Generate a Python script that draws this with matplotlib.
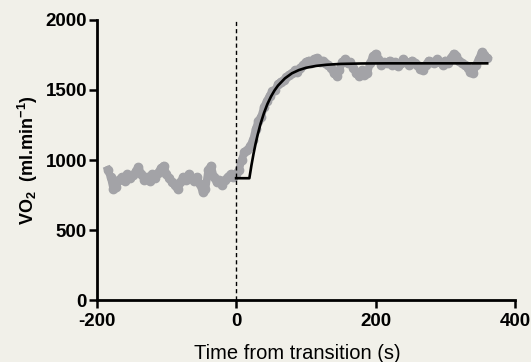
import numpy as np
import matplotlib.pyplot as plt

plt.rcParams['font.family'] = ['Liberation Sans', 'DejaVu Sans']
plt.rcParams['mathtext.fontset'] = 'custom'
plt.rcParams['mathtext.rm'] = 'Liberation Sans:bold'
plt.rcParams['mathtext.default'] = 'rm'
plt.rcParams['axes.unicode_minus'] = False

bg = '#f1f0e9'

# breath data, 4 s bins from -184 s to 360 s
t = np.arange(-184, 361, 4)
vo2 = [930, 880, 790, 810, 860, 880, 850, 900, 870, 890,
       920, 950, 900, 860, 880, 850, 900, 870, 910, 940,
       960, 900, 870, 840, 820, 790, 840, 880, 860, 900,
       870, 850, 880, 830, 770, 790, 930, 960, 880, 840,
       860, 820, 860, 880, 900, 880,
       # transition
       900, 930, 1000, 1060, 1070, 1100, 1140, 1220, 1280, 1310,
       1380, 1420, 1460, 1490, 1500, 1540, 1560, 1570, 1590, 1610,
       1620, 1640, 1630, 1660, 1680, 1700, 1710, 1690, 1720, 1730,
       1700, 1710, 1690, 1680, 1660, 1620, 1600, 1640, 1700, 1720,
       1690, 1700, 1660, 1620, 1600, 1640, 1610, 1620, 1690, 1740,
       1760, 1720, 1680, 1700, 1690, 1710, 1680, 1700, 1670, 1690,
       1720, 1700, 1680, 1710, 1690, 1680, 1650, 1640, 1680, 1710,
       1700, 1690, 1720, 1700, 1680, 1710, 1690, 1730, 1760, 1740,
       1710, 1690, 1680, 1660, 1630, 1620, 1680, 1720, 1770, 1750,
       1730]

# mono-exponential fit (baseline, time delay, then rise)
fit_t = [0, 19, 22, 25, 28, 31, 35, 40, 45, 50, 55, 60, 70, 80, 90,
         100, 115, 130, 150, 180, 220, 360]
fit_v = [870, 870, 963, 1045, 1118, 1182, 1258, 1336, 1401, 1453, 1496,
         1531, 1583, 1619, 1642, 1658, 1672, 1680, 1686, 1689, 1690, 1690]

fig = plt.figure(figsize=(5.31, 3.62), dpi=100, facecolor=bg)
ax = fig.add_axes([0.182, 0.171, 0.788, 0.774])
ax.set_facecolor(bg)

ax.plot(t, vo2, '-o', color='#a3a3a7', lw=5.5, ms=6, mec='#a3a3a7',
        solid_joinstyle='round', zorder=2)
ax.plot(fit_t, fit_v, color='black', lw=1.9, zorder=3)
ax.plot([0, 0], [0, 2000], color='black', lw=1, ls=(0, (3, 2.2)), zorder=4)

ax.set_xlim(-200, 400)
ax.set_ylim(0, 2000)
ax.set_xticks([-200, 0, 200, 400])
ax.set_yticks([0, 500, 1000, 1500, 2000])

for s in ['top', 'right']:
    ax.spines[s].set_visible(False)
for s in ['left', 'bottom']:
    ax.spines[s].set_linewidth(2)

ax.tick_params(axis='both', direction='out', length=6, width=1.8,
               labelsize=13.5)
ax.tick_params(axis='y', pad=1)
ax.tick_params(axis='x', pad=3)
for lab in ax.get_xticklabels() + ax.get_yticklabels():
    lab.set_fontweight('bold')

ax.set_ylabel('VO$_2$  (ml.min$^{-1}$)', fontsize=13, fontweight='bold',
              labelpad=4)
ax.set_xlabel('Time from transition (s)', fontsize=14.5)
ax.xaxis.set_label_coords(0.48, -0.155)

plt.savefig('out.png', dpi=100, facecolor=bg)
